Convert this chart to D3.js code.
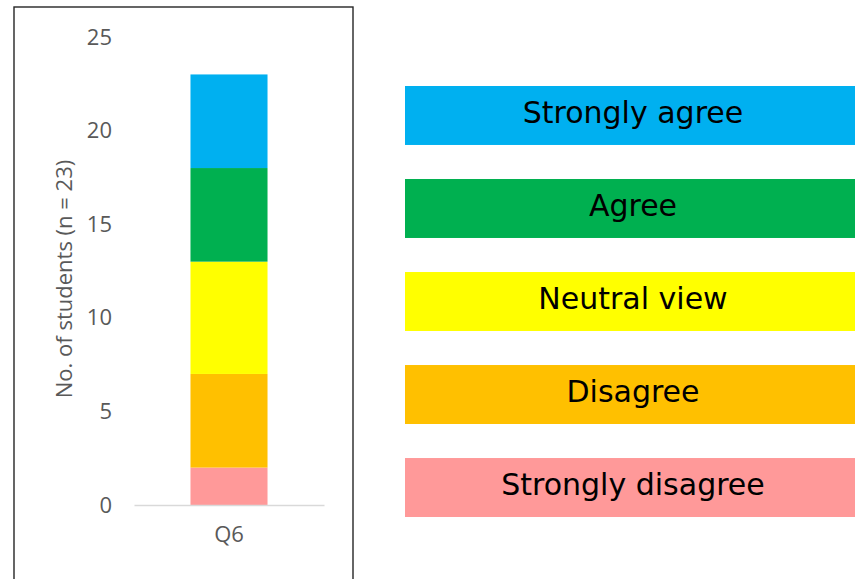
<!DOCTYPE html>
<html>
<head>
<meta charset="utf-8">
<script src="https://cdn.jsdelivr.net/npm/d3@7"></script>
<style>
  html, body { margin: 0; padding: 0; background: #fff; }
  svg { display: block; }
</style>
</head>
<body>
<svg id="chart" width="855" height="579"></svg>
<script>
// Responses to Q6, stacked from the bottom up
const question = "Q6";
const categories = ["Strongly disagree", "Disagree", "Neutral view", "Agree", "Strongly agree"];
const counts = [2, 5, 6, 5, 5];
const colors = ["#FF9999", "#FFC000", "#FFFF00", "#00B050", "#00B0F0"];
const yTicks = [0, 5, 10, 15, 20, 25];
const yTitle = "No. of students (n = 23)";

const svg = d3.select("#chart");

// chart frame
svg.append("rect")
  .attr("x", 14).attr("y", 7)
  .attr("width", 339).attr("height", 600)
  .attr("fill", "none")
  .attr("stroke", "#262626")
  .attr("stroke-width", 1.4);

const y = d3.scaleLinear().domain([0, 25]).range([505, 37]);
const x = d3.scaleBand().domain([question]).range([134, 324]).padding(0.423);

const axisFont = "'Open Sans', 'Liberation Sans', sans-serif";

// y tick labels
const yAxis = d3.axisLeft(y).tickValues(yTicks).tickSize(0).tickPadding(0);
const yg = svg.append("g").attr("transform", "translate(112,0)").call(yAxis);
yg.select(".domain").remove();
yg.selectAll("text")
  .attr("fill", "#595959")
  .style("font-family", axisFont)
  .style("font-size", "22px");

// y axis title
svg.append("text")
  .attr("transform", "translate(72,279) rotate(-90)")
  .attr("text-anchor", "middle")
  .attr("fill", "#595959")
  .style("font-family", axisFont)
  .style("font-size", "22px")
  .text(yTitle);

// stacked segments
const row = { q: question };
categories.forEach((c, i) => { row[c] = counts[i]; });
const series = d3.stack().keys(categories)([row]);

svg.append("g").selectAll("rect")
  .data(series)
  .join("rect")
  .attr("x", x(question))
  .attr("width", x.bandwidth())
  .attr("y", d => y(d[0][1]))
  .attr("height", d => y(d[0][0]) - y(d[0][1]))
  .attr("fill", (d, i) => colors[i]);

// baseline and category label
const xAxis = d3.axisBottom(x).tickSize(0).tickPadding(21);
const xg = svg.append("g").attr("transform", "translate(0,505)").call(xAxis);
xg.select(".domain").attr("stroke", "#D9D9D9").attr("stroke-width", 1.6);
xg.selectAll("text")
  .attr("fill", "#595959")
  .style("font-family", axisFont)
  .style("font-size", "22px");

// legend boxes, top to bottom
const legendOrder = categories.slice().reverse();
const ly = d3.scaleBand().domain(legendOrder).range([86, 517]).paddingInner(0.366).paddingOuter(0);

const lg = svg.append("g").selectAll("g")
  .data(legendOrder)
  .join("g")
  .attr("transform", d => `translate(405,${ly(d)})`);

lg.append("rect")
  .attr("width", 456)
  .attr("height", ly.bandwidth())
  .attr("fill", d => colors[categories.indexOf(d)]);

lg.append("text")
  .attr("x", 228)
  .attr("y", 37)
  .attr("text-anchor", "middle")
  .attr("fill", "#000")
  .style("font-family", "'DejaVu Sans', Verdana, sans-serif")
  .style("font-size", "30px")
  .text(d => d);
</script>
</body>
</html>
